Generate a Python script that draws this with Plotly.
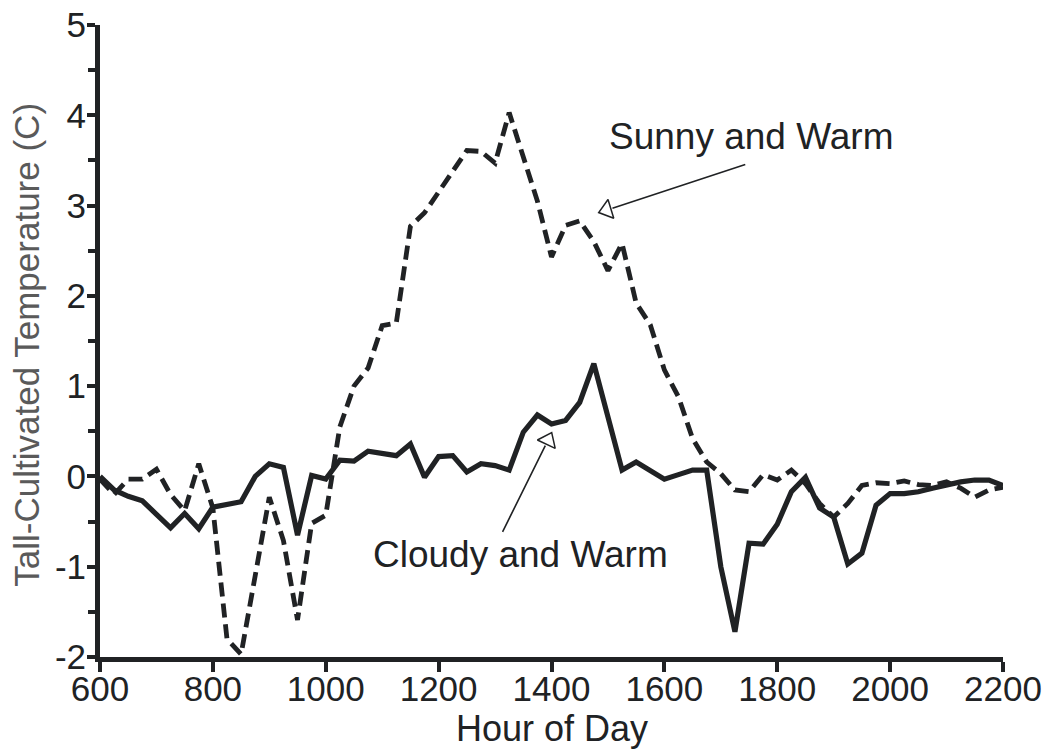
import plotly.graph_objects as go

hours = list(range(600, 2201, 25))

cloudy_warm = [
    0.0, -0.15, -0.22, -0.27, -0.42, -0.57, -0.41, -0.58, -0.34, -0.31, -0.28, 0.0,
    0.14, 0.10, -0.65, 0.01, -0.03, 0.18, 0.17, 0.28, 0.25, 0.23, 0.36, -0.01,
    0.22, 0.23, 0.05, 0.14, 0.12, 0.07, 0.49, 0.68, 0.58, 0.62, 0.82, 1.25,
    0.66, 0.07, 0.16, 0.06, -0.03, 0.02, 0.07, 0.07, -1.0, -1.72, -0.74, -0.75,
    -0.53, -0.17, -0.01, -0.35, -0.45, -0.97, -0.85, -0.32, -0.19, -0.19, -0.17, -0.13,
    -0.09, -0.06, -0.04, -0.04, -0.10,
]

sunny_warm = [
    -0.03, -0.2, -0.03, -0.03, 0.08, -0.2, -0.38, 0.14, -0.35, -1.8, -1.97, -1.1,
    -0.23, -0.71, -1.59, -0.52, -0.43, 0.55, 1.0, 1.2, 1.67, 1.70, 2.77, 2.92,
    3.15, 3.38, 3.61, 3.6, 3.47, 4.03, 3.55, 3.05, 2.43, 2.78, 2.83, 2.6,
    2.28, 2.58, 1.92, 1.68, 1.18, 0.88, 0.42, 0.16, 0.03, -0.15, -0.17, 0.02,
    -0.04, 0.07, -0.08, -0.3, -0.45, -0.3, -0.1, -0.07, -0.08, -0.05, -0.09, -0.10,
    -0.06, -0.13, -0.23, -0.15, -0.12,
]

x_ticks = [600, 800, 1000, 1200, 1400, 1600, 1800, 2000, 2200]
y_ticks = [-2, -1, 0, 1, 2, 3, 4, 5]
x_title = "Hour of Day"
y_title = "Tall-Cultivated Temperature (C)"

# annotation geometry (data space)
sunny_label = ("Sunny and Warm", 1753, 3.76)
sunny_arrow_tail = (1746, 3.46)
sunny_arrow_base = (1508, 2.97)
sunny_head = (1498, 2.95, -107)
cloudy_label = ("Cloudy and Warm", 1345, -0.86)
cloudy_arrow_tail = (1312, -0.63)
cloudy_arrow_base = (1389, 0.34)
cloudy_head = (1394, 0.40, 25)

INK = "#202224"
FONT = "Liberation Sans, Arial, sans-serif"

fig = go.Figure()
fig.add_trace(go.Scatter(
    x=hours, y=sunny_warm, mode="lines", name="Sunny and Warm",
    line=dict(color=INK, width=4.8, dash="14px,7px"), cliponaxis=False,
))
fig.add_trace(go.Scatter(
    x=hours, y=cloudy_warm, mode="lines", name="Cloudy and Warm",
    line=dict(color=INK, width=5.2), cliponaxis=False,
))

# arrow heads (open triangles)
fig.add_trace(go.Scatter(
    x=[sunny_head[0], cloudy_head[0]], y=[sunny_head[1], cloudy_head[1]],
    mode="markers", showlegend=False, cliponaxis=False,
    marker=dict(symbol="triangle-up-open", size=17,
                angle=[sunny_head[2], cloudy_head[2]],
                color=INK, line=dict(color=INK, width=1.5)),
))

for (tx, ty), (bx, by) in [(sunny_arrow_tail, sunny_arrow_base), (cloudy_arrow_tail, cloudy_arrow_base)]:
    fig.add_annotation(x=bx, y=by, ax=tx, ay=ty, xref="x", yref="y", axref="x", ayref="y",
                       text="", showarrow=True, arrowhead=0, arrowwidth=1.6, arrowcolor=INK,
                       standoff=0, startstandoff=0)

for txt, x, y in [sunny_label, cloudy_label]:
    fig.add_annotation(x=x, y=y, xref="x", yref="y", text=txt, showarrow=False,
                       font=dict(family=FONT, size=37, color=INK),
                       xanchor="center", yanchor="middle")

# axis titles
fig.add_annotation(x=0.5, y=-0.113, xref="paper", yref="paper", text=x_title, showarrow=False,
                   font=dict(family=FONT, size=36, color=INK), xanchor="center", yanchor="middle")
fig.add_annotation(x=-0.081, y=0.494, xref="paper", yref="paper", text=y_title, showarrow=False,
                   textangle=-90, font=dict(family=FONT, size=35, color="#5a5a5a"),
                   xanchor="center", yanchor="middle")

fig.update_layout(
    width=1052, height=750,
    margin=dict(l=92, r=57, t=17, b=101, autoexpand=False),
    paper_bgcolor="white", plot_bgcolor="white",
    showlegend=False,
    font=dict(family=FONT, color=INK),
)
fig.update_xaxes(
    range=[600, 2200], tickvals=x_ticks, ticktext=[str(v) for v in x_ticks],
    showgrid=False, zeroline=False, automargin=False,
    showline=True, linecolor=INK, linewidth=5,
    ticks="outside", ticklen=10, tickwidth=4, tickcolor=INK,
    ticklabelstandoff=-13, ticklabeloverflow="allow",
    tickfont=dict(family=FONT, size=35, color=INK),
)
fig.update_yaxes(
    range=[-2, 5], tickvals=y_ticks, ticktext=[str(v) for v in y_ticks],
    showgrid=False, zeroline=False, automargin=False,
    showline=True, linecolor=INK, linewidth=5,
    ticks="outside", ticklen=8, tickwidth=4, tickcolor=INK,
    ticklabelstandoff=-6, ticklabeloverflow="allow",
    minor=dict(ticks="outside", dtick=0.5, tick0=0, ticklen=7, tickwidth=4, tickcolor=INK),
    tickfont=dict(family=FONT, size=35, color=INK),
)

fig.write_html("out.html")
